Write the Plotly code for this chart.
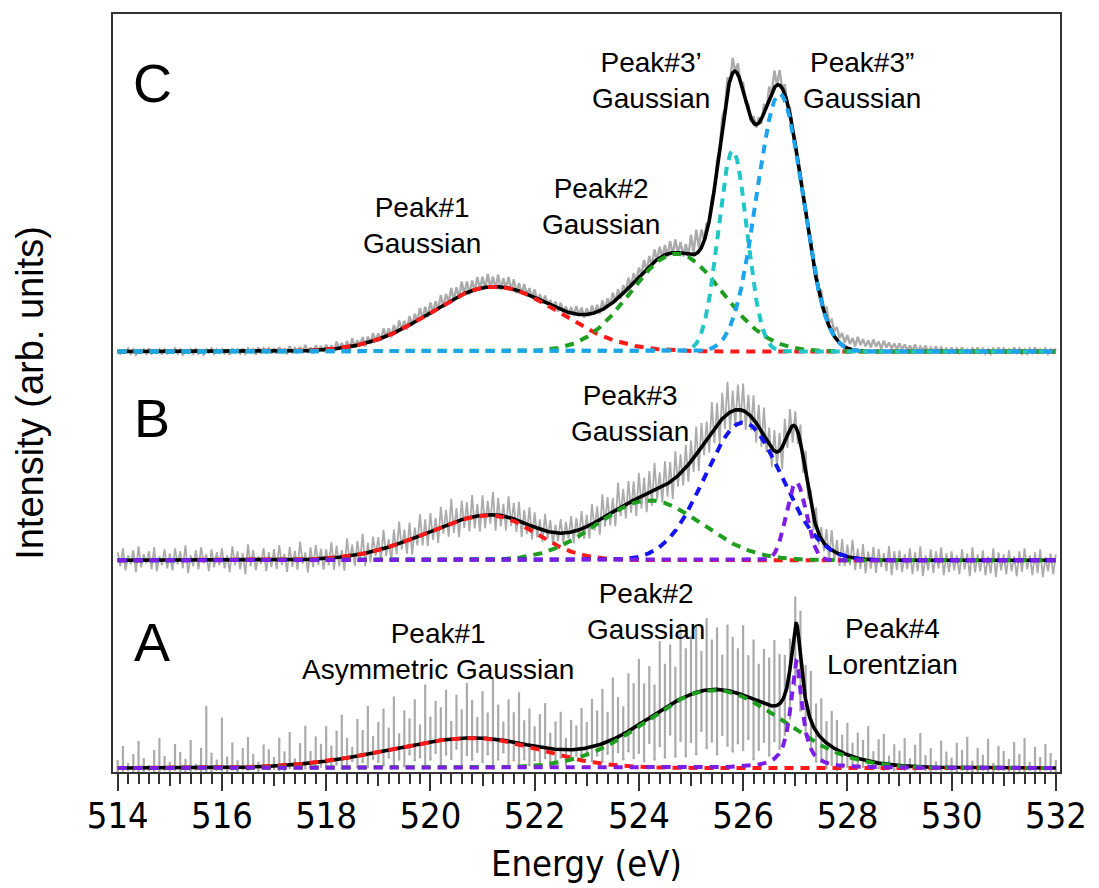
import numpy as np
import plotly.graph_objects as go

# ---------------- data ----------------
major_ticks = [514, 516, 518, 520, 522, 524, 526, 528, 530, 532]
major_labels = ["514", "516", "518", "520", "522", "524", "526", "528", "530", "532"]
mid_ticks = [515, 517, 519, 521, 523, 525, 527, 529, 531]

# vertical offsets of the three stacked spectra (arb. units)
offset_A, offset_B, offset_C = 0, 208, 417

# fitted components: peak energy (eV), height, left width, right width, shape (G=Gaussian, L=Lorentzian HWHM)
C_center = [521.23, 524.72, 525.80, 526.70]
C_height = [65, 98, 201, 258]
C_wl = [1.22, 0.88, 0.275, 0.44]
C_wr = [1.22, 0.88, 0.275, 0.44]
C_shape = ["G", "G", "G", "G"]
C_color = ["#ff1a1a", "#1f9e1f", "#22c6c6", "#1ca4ee"]

B_center = [521.16, 524.20, 526.00, 527.02]
B_height = [45, 60, 138, 78]
B_wl = [1.25, 1.00, 0.74, 0.19]
B_wr = [0.85, 1.00, 0.74, 0.19]
B_shape = ["G", "G", "G", "G"]
B_color = ["#ff1a1a", "#1f9e1f", "#1414f0", "#7d1ee6"]

A_center = [520.83, 525.45, 527.02]
A_height = [30, 78, 107]
A_wl = [1.65, 1.30, 0.13]
A_wr = [1.25, 1.30, 0.13]
A_shape = ["G", "G", "L"]
A_color = ["#ff1a1a", "#1f9e1f", "#7d1ee6"]

# measured data scatter (every 0.1 eV from 514 to 532): upper / lower extent relative to the fit
A_top = [8, 22, 5, 14, 27, 10, 3, 18, 30, 12,
         6, 24, 16, 9, 28, 4, 20, 62, 15, 8,
         50, 11, 25, 7, 19, 30, 13, 5, 22, 17,
         9, 28, 14, 33, 6, 21, 38, 12, 26, 18,
         35, 15, 29, 44, 20, 10, 37, 25, 48, 17,
         30, 42, 22, 52, 14, 36, 27, 45, 19, 58,
         25, 40, 33, 50, 18, 44, 29, 55, 38, 21,
         47, 26, 60, 35, 19, 42, 30, 51, 24, 37,
         20, 33, 45, 16, 28, 38, 12, 30, 24, 41,
         26, 48, 35, 55, 30, 62, 40, 28, 58, 45,
         66, 38, 52, 30, 70, 44, 60, 35, 75, 48,
         58, 68, 40, 72, 50, 62, 35, 66, 55, 45,
         70, 42, 60, 38, 55, 48, 66, 50, 40, 30,
         29, 45, 35, 50, 28, 40, 22, 36, 30, 18,
         32, 14, 26, 20, 35, 11, 24, 30, 9, 21,
         15, 28, 8, 22, 34, 12, 19, 6, 27, 16,
         10, 25, 18, 31, 7, 20, 13, 29, 5, 22,
         17, 9, 26, 14, 30, 6, 21, 11, 24, 15,
         8]
A_bot = [-3, -4, -2, -3, -4, -3, -2, -4, -3, -2,
         -4, -2, -3, -4, -3, -2, -4, -3, -4, -2,
         -3, -4, -2, -4, -2, -3, -2, -4, -2, -3,
         -3, -4, -5, -3, -4, -3, -5, -4, -3, -5,
         -6, -8, -5, -10, -8, -4, -11, -7, -13, -6,
         -10, -15, -8, -18, -12, -20, -9, -16, -14, -22,
         -18, -12, -25, -15, -20, -10, -28, -17, -22, -14,
         -24, -16, -30, -20, -12, -26, -18, -22, -15, -20,
         -14, -20, -10, -17, -12, -8, -15, -10, -6, -12,
         -8, -14, -10, -18, -12, -22, -15, -25, -20, -30,
         -28, -40, -25, -45, -35, -50, -30, -55, -42, -60,
         -48, -62, -40, -58, -52, -65, -45, -55, -60, -50,
         -55, -42, -60, -48, -38, -50, -35, -45, -40, -50,
         -60, -55, -35, -28, -30, -22, -25, -18, -20, -15,
         -12, -10, -8, -7, -6, -7, -5, -6, -4, -5,
         -3, -4, -2, -4, -2, -3, -4, -2, -3, -2,
         -3, -4, -2, -3, -4, -3, -2, -4, -3, -2,
         -2, -4, -3, -4, -3, -2, -4, -3, -2, -4,
         -3]

B_top = [8, 12, 5, 10, 14, 6, 9, 13, 4, 11,
         7, 12, 9, 15, 5, 10, 13, 6, 11, 8,
         12, 5, 14, 9, 7, 16, 10, 4, 12, 8,
         11, 15, 6, 13, 9, 18, 7, 12, 14, 10,
         9, 16, 12, 7, 18, 11, 14, 20, 10, 15,
         13, 19, 8, 16, 22, 12, 17, 10, 21, 14,
         18, 11, 20, 15, 24, 13, 19, 16, 22, 12,
         20, 14, 23, 17, 12, 21, 16, 19, 13, 18,
         15, 10, 17, 12, 8, 14, 11, 16, 13, 18,
         12, 20, 15, 24, 18, 14, 26, 17, 22, 19,
         25, 18, 22, 28, 16, 24, 20, 27, 19, 23,
         21, 28, 24, 18, 30, 22, 26, 32, 20, 25,
         27, 19, 24, 22, 28, 17, 21, 18, 23, 20,
         15, 18, 22, 14, 19, 12, 17, 20, 13, 16,
         12, 18, 10, 15, 8, 13, 11, 7, 14, 9,
         10, 6, 12, 8, 14, 5, 11, 9, 13, 7,
         9, 5, 11, 7, 13, 6, 10, 4, 12, 8,
         6, 10, 4, 9, 12, 5, 8, 11, 3, 7,
         6]
B_bot = [-6, -10, -4, -12, -7, -3, -9, -11, -5, -8,
         -10, -4, -8, -13, -6, -9, -3, -11, -7, -5,
         -8, -12, -5, -9, -14, -6, -10, -4, -11, -7,
         -9, -5, -12, -7, -10, -4, -13, -8, -6, -11,
         -7, -12, -9, -14, -6, -11, -8, -13, -10, -5,
         -12, -8, -15, -10, -7, -13, -16, -9, -11, -14,
         -10, -15, -8, -13, -11, -17, -9, -14, -12, -16,
         -13, -9, -16, -11, -14, -8, -12, -15, -10, -13,
         -9, -12, -7, -11, -8, -10, -6, -12, -9, -11,
         -13, -8, -15, -10, -12, -16, -9, -14, -11, -17,
         -12, -18, -14, -10, -16, -13, -19, -11, -15, -17,
         -14, -20, -12, -17, -15, -22, -13, -18, -16, -12,
         -18, -14, -20, -16, -12, -19, -15, -22, -13, -17,
         -12, -16, -10, -14, -11, -8, -13, -9, -12, -10,
         -8, -12, -10, -14, -9, -13, -7, -11, -15, -10,
         -12, -9, -14, -11, -16, -10, -13, -8, -15, -12,
         -10, -14, -9, -16, -12, -11, -15, -13, -17, -10,
         -14, -11, -16, -12, -9, -15, -13, -17, -11, -14,
         -12]

C_top = [2, 1, 3, 2, 1, 2, 3, 1, 2, 2,
         1, 3, 2, 1, 2, 3, 1, 2, 3, 2,
         2, 1, 3, 2, 2, 3, 2, 4, 3, 3,
         3, 4, 2, 5, 3, 4, 6, 3, 5, 4,
         5, 4, 7, 5, 6, 8, 5, 7, 6, 8,
         6, 9, 7, 8, 10, 7, 9, 8, 11, 9,
         10, 8, 11, 9, 12, 10, 13, 11, 10, 12,
         11, 13, 10, 12, 9, 11, 10, 8, 9, 7,
         8, 6, 7, 5, 6, 7, 5, 6, 8, 7,
         6, 8, 7, 9, 8, 10, 9, 8, 10, 9,
         9, 11, 10, 12, 11, 10, 12, 13, 11, 10,
         20, 24, 18, 9, 7, 8, 10, 14, 15, 11,
         8, 6, 7, 6, 9, 12, 17, 15, 10, 7,
         5, 6, 7, 8, 10, 11, 12, 12, 13, 12,
         13, 12, 14, 12, 11, 12, 10, 11, 9, 8,
         8, 7, 6, 7, 5, 6, 4, 5, 4, 3,
         4, 3, 4, 2, 3, 4, 3, 2, 3, 4,
         3, 2, 4, 3, 2, 3, 4, 2, 3, 2,
         3]
C_bot = [-2, -1, -2, -3, -1, -2, -2, -1, -3, -2,
         -1, -2, -3, -1, -2, -2, -3, -1, -2, -1,
         -2, -3, -1, -2, -2, -1, -3, -2, -1, -2,
         -2, -1, -3, -2, -1, -2, -2, -3, -1, -2,
         -2, -3, -1, -2, -3, -2, -1, -3, -2, -1,
         -2, -1, -3, -2, -1, -3, -2, -1, -2, -3,
         -1, -2, -3, -1, -2, -2, -1, -3, -2, -1,
         -2, -1, -2, -3, -1, -2, -3, -2, -1, -2,
         -3, -2, -1, -2, -3, -1, -2, -2, -1, -3,
         -2, -1, -3, -2, -1, -2, -3, -1, -2, -2,
         -1, -3, -2, -1, -2, -3, -2, -1, -3, -2,
         2, 4, 2, -2, -3, -2, -1, -2, -1, -2,
         -2, -4, -3, -5, -3, -1, 0, -1, -2, -3,
         -2, -1, 0, 1, 2, 3, 4, 5, 5, 4,
         5, 4, 6, 5, 4, 5, 3, 4, 3, 2,
         2, 1, 1, 0, 1, -1, 0, -1, 0, -1,
         -2, -1, -2, -1, -2, -1, -2, -2, -1, -2,
         -1, -2, -1, -2, -2, -1, -2, -1, -2, -1,
         -2]

# ---------------- model evaluation ----------------
x_fit = np.linspace(514, 532, 3601)
x_dat = np.round(np.linspace(514, 532, 181), 2)
x_half = np.round(x_dat + 0.05, 3)


def component(x, c, h, wl, wr, shape):
    if shape == "L":
        return h / (1.0 + ((x - c) / wl) ** 2)
    w = np.where(x < c, wl, wr)
    return h * np.exp(-0.5 * ((x - c) / w) ** 2)


def total_fit(x, cen, hei, wl, wr, shp):
    return sum(component(x, c, h, a, b, s) for c, h, a, b, s in zip(cen, hei, wl, wr, shp))


panels = [
    ("A", offset_A, A_center, A_height, A_wl, A_wr, A_shape, A_color, A_top, A_bot),
    ("B", offset_B, B_center, B_height, B_wl, B_wr, B_shape, B_color, B_top, B_bot),
    ("C", offset_C, C_center, C_height, C_wl, C_wr, C_shape, C_color, C_top, C_bot),
]

GRAY = "#ababab"
fig = go.Figure()

# measured data (gray)
zig_width = {"B": 1.8, "C": 2.4}
for name, off, cen, hei, wl, wr, shp, col, top, bot in panels:
    top = np.array(top, float)
    bot = np.array(bot, float)
    fit_a = total_fit(x_dat, cen, hei, wl, wr, shp)
    if name == "A":
        # scattered points: vertical streaks between lower and upper extent
        fig.add_trace(go.Scatter(
            x=x_dat, y=fit_a + off + bot, mode="markers",
            marker=dict(color=GRAY, size=2.5),
            error_y=dict(type="data", symmetric=False, array=top - bot,
                         arrayminus=np.zeros_like(top), color=GRAY,
                         thickness=2.2, width=0),
            hoverinfo="skip", showlegend=False))
    else:
        # noisy line running between the upper and lower extents
        fit_b = total_fit(x_half, cen, hei, wl, wr, shp)
        xs = np.empty(2 * len(x_dat))
        ys = np.empty(2 * len(x_dat))
        xs[0::2] = x_dat
        xs[1::2] = x_half
        ys[0::2] = fit_a + off + top
        ys[1::2] = fit_b + off + bot
        fig.add_trace(go.Scatter(x=xs[:-1], y=ys[:-1], mode="lines",
                                 line=dict(color=GRAY, width=zig_width[name]),
                                 hoverinfo="skip", showlegend=False))

# total fits (black)
for name, off, cen, hei, wl, wr, shp, col, top, bot in panels:
    fig.add_trace(go.Scatter(x=x_fit, y=total_fit(x_fit, cen, hei, wl, wr, shp) + off,
                             mode="lines", line=dict(color="black", width=3.6),
                             hoverinfo="skip", showlegend=False))

# components (dashed)
for name, off, cen, hei, wl, wr, shp, col, top, bot in panels:
    for c, h, a, b, s, k in zip(cen, hei, wl, wr, shp, col):
        fig.add_trace(go.Scatter(x=x_fit, y=component(x_fit, c, h, a, b, s) + off,
                                 mode="lines",
                                 line=dict(color=k, width=4, dash="9px,7px"),
                                 hoverinfo="skip", showlegend=False))

# helper trace for the secondary (1 eV) tick axis
fig.add_trace(go.Scatter(x=[None], y=[None], xaxis="x2", yaxis="y",
                         showlegend=False, hoverinfo="skip"))

AX = "#333333"
NARROW = "Liberation Sans Narrow, DejaVu Sans Condensed, Arial Narrow, sans-serif"
TICKFONT = dict(family=NARROW, size=36, color="black")
LABFONT = dict(family="Liberation Sans, Arial, sans-serif", size=28, color="black")

fig.update_layout(
    width=1099, height=888,
    margin=dict(l=113, r=29, t=13, b=116),
    plot_bgcolor="white", paper_bgcolor="white",
    showlegend=False,
    xaxis=dict(range=[513.91, 532.08], showline=True, mirror=True, linecolor=AX, linewidth=2,
               ticks="outside", tickvals=major_ticks, ticktext=major_labels,
               ticklen=17, tickwidth=2, tickcolor=AX, tickfont=TICKFONT,
               ticklabeloverflow="allow", ticklabelstandoff=-6,
               showgrid=False, zeroline=False,
               minor=dict(tick0=514, dtick=0.2, ticks="outside", ticklen=10,
                          tickwidth=1.5, tickcolor=AX, showgrid=False)),
    xaxis2=dict(range=[513.91, 532.08], overlaying="x", anchor="y", side="bottom",
                tickvals=mid_ticks, ticks="outside", ticklen=13, tickwidth=1.5,
                tickcolor=AX, showticklabels=False, showline=False,
                showgrid=False, zeroline=False),
    yaxis=dict(range=[-4, 755], showline=True, mirror=True, linecolor=AX, linewidth=2,
               ticks="", showticklabels=False, showgrid=False, zeroline=False),
)

annotations = [
    dict(x=514.67, y=686, text="C", font=dict(family="Liberation Sans, Arial", size=54, color="black")),
    dict(x=514.65, y=350, text="B", font=dict(family="Liberation Sans, Arial", size=54, color="black")),
    dict(x=514.65, y=126, text="A", font=dict(family="Liberation Sans, Arial", size=54, color="black")),
    dict(x=519.83, y=543, text="Peak#1<br>Gaussian", font=LABFONT),
    dict(x=523.27, y=562, text="Peak#2<br>Gaussian", font=LABFONT),
    dict(x=524.24, y=688, text="Peak#3\u2019<br>Gaussian", font=LABFONT),
    dict(x=528.28, y=688, text="Peak#3\u201d<br>Gaussian", font=LABFONT),
    dict(x=523.82, y=355, text="Peak#3<br>Gaussian", font=LABFONT),
    dict(x=520.14, y=117, text="Peak#1<br>Asymmetric Gaussian", font=LABFONT),
    dict(x=524.13, y=157, text="Peak#2<br>Gaussian", font=LABFONT),
    dict(x=528.87, y=122, text="Peak#4<br>Lorentzian", font=LABFONT),
]
for a in annotations:
    fig.add_annotation(xref="x", yref="y", showarrow=False, xanchor="center",
                       yanchor="middle", align="center", **a)

fig.add_annotation(xref="paper", yref="paper", x=-0.0878, y=0.5, text="Intensity (arb. units)",
                   textangle=-90, showarrow=False, xanchor="center", yanchor="middle",
                   font=dict(family="Liberation Sans, Arial, sans-serif", size=38, color="black"))
fig.add_annotation(xref="paper", yref="paper", x=0.5, y=-0.1212, text="Energy (eV)",
                   showarrow=False, xanchor="center", yanchor="middle",
                   font=dict(family=NARROW, size=36, color="black"))

fig.write_html("out.html")
